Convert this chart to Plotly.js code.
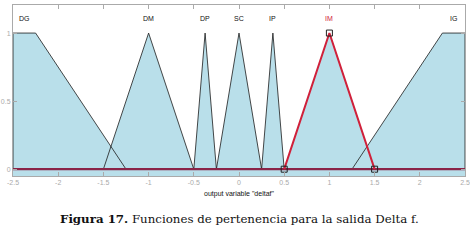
<!DOCTYPE html>
<html><head><meta charset="utf-8">
<script src="https://cdn.plot.ly/plotly-3.0.1.min.js"></script>
<style>body{margin:0;background:#fff}#c{width:470px;height:251px}</style>
</head><body><div id="c"></div>
<script>
const mfNames = ["DG","DM","DP","SC","IP","IM","IG"];
const mfX = [
  [-2.5,-2.5,-2.25,-1.25],
  [-1.5,-1,-0.5],
  [-0.5,-0.375,-0.25],
  [-0.25,0,0.25],
  [0.25,0.375,0.5],
  [0.5,1,1.5],
  [1.25,2.25,2.5,2.5]
];
const mfY = [
  [0,1,1,0],
  [0,1,0],
  [0,1,0],
  [0,1,0],
  [0,1,0],
  [0,1,0],
  [0,1,1,0]
];
const labelX = [-2.37,-1,-0.375,0,0.375,1,2.37];
const selected = "IM";
const xTicks = [-2.5,-2,-1.5,-1,-0.5,0,0.5,1,1.5,2,2.5];
const yTicks = [0,0.5,1];

const fillCol = "rgb(185,223,234)";
const traces = [];
// fills first
mfNames.forEach((n,i)=>{
  traces.push({x:mfX[i], y:mfY[i], type:"scatter", mode:"lines", fill:"tozeroy",
    fillcolor:fillCol, line:{width:0, color:fillCol}, hoverinfo:"skip", showlegend:false});
});
// outlines on top
mfNames.forEach((n,i)=>{
  if (n===selected) return;
  traces.push({x:mfX[i], y:mfY[i], type:"scatter", mode:"lines",
    line:{color:"#1a1a1a", width:0.8}, hoverinfo:"skip", showlegend:false});
});
// baseline
traces.push({x:[-2.5,2.5], y:[0,0], type:"scatter", mode:"lines",
  line:{color:"#8a2448", width:2.2}, showlegend:false, hoverinfo:"skip"});
const si = mfNames.indexOf(selected);
traces.push({x:mfX[si], y:mfY[si], type:"scatter", mode:"lines",
  line:{color:"#d0203a", width:2}, hoverinfo:"skip", showlegend:false});
traces.push({x:mfX[si], y:mfY[si], type:"scatter", mode:"markers",
  marker:{symbol:"square-open", size:6, color:"#222", line:{width:1}}, showlegend:false, hoverinfo:"skip"});

const ann = mfNames.map((n,i)=>({x:labelX[i], y:1.11, xref:"x", yref:"y", text:n, showarrow:false,
  font:{family:"Liberation Sans, Arial", size:7, color:n===selected?"#d0203a":"#111"}}));
ann.push({x:0.5, xref:"paper", y:-0.25, yref:"paper", yanchor:"middle", showarrow:false,
  text:"<b>Figura 17.</b> Funciones de pertenencia para la salida Delta f.",
  font:{family:"DejaVu Serif, Liberation Serif, serif", size:11.8, color:"#111"}});

const layout = {
  width:470, height:251,
  margin:{l:13, r:5, t:5, b:75},
  paper_bgcolor:"#fff", plot_bgcolor:"#fff",
  xaxis:{range:[-2.5,2.5], tickvals:xTicks, ticktext:xTicks.map(String), ticks:"inside", ticklen:4,
    tickcolor:"#aaa", mirror:"ticks", showline:true, linecolor:"#aaa", showgrid:false, zeroline:false,
    tickfont:{family:"Liberation Sans, Arial", size:7, color:"#aaa"},
    title:{text:'output variable "deltaf"', font:{family:"Liberation Sans, Arial", size:7, color:"#111"}, standoff:5}},
  yaxis:{range:[-0.05,1.206], tickvals:yTicks, ticktext:["0","0.5","1"], ticks:"inside", ticklen:4,
    tickcolor:"#aaa", mirror:"ticks", showline:true, linecolor:"#aaa", showgrid:false, zeroline:false,
    tickfont:{family:"Liberation Sans, Arial", size:7, color:"#aaa"}},
  shapes:[{type:"rect", xref:"x", yref:"y", x0:-2.5, x1:2.5, y0:-0.05, y1:0, fillcolor:fillCol, line:{width:0}, layer:"below"}],
  annotations:ann
};
Plotly.newPlot("c", traces, layout, {displayModeBar:false, staticPlot:true});
</script></body></html>
